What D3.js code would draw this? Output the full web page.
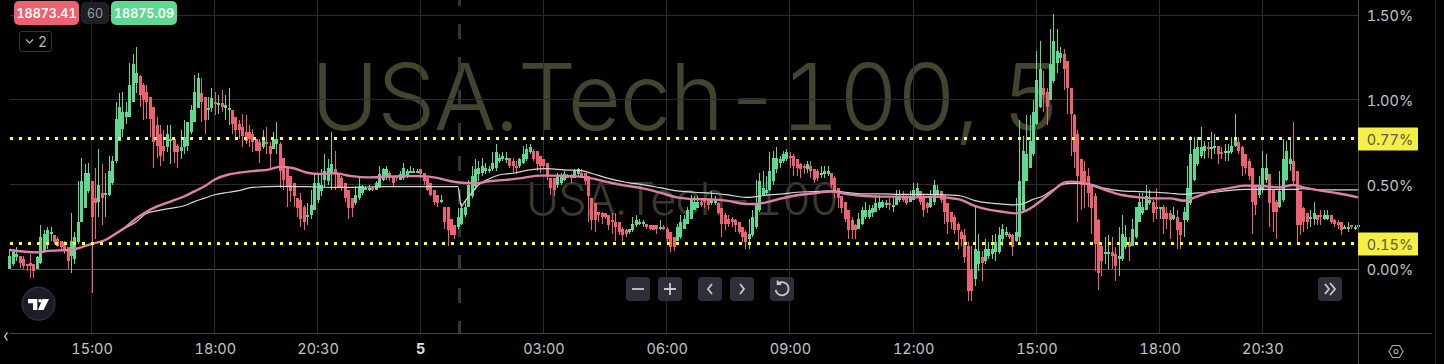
<!doctype html>
<html lang="en">
<head>
<meta charset="utf-8">
<title>USA.Tech-100, 5</title>
<script src="https://cdn.jsdelivr.net/npm/d3@7/dist/d3.min.js"></script>
<style>
html,body{margin:0;padding:0;background:#000;overflow:hidden}
svg{display:block}
text{font-family:Inter,sans-serif;font-variant-numeric:tabular-nums}
</style>
</head>
<body>
<svg id="chart" width="1444" height="364"></svg>
<script>
// percent change candles, one row of ten per line
var opens = [
0,.03,.07,.08,.06,.03,.04,.03,0,.04,
.11,.16,.21,.20,.18,.17,.16,.13,.08,.06,
.16,.28,.36,.46,.52,.42,.40,.45,.44,.44,
.51,.64,.76,.83,.90,.90,.99,1.10,1.14,1.09,
1.05,1.02,.96,.85,.80,.73,.72,.77,.77,.73,
.70,.72,.73,.81,.87,.95,1.04,1.02,.95,.95,
.99,.98,.98,.95,.94,.94,.90,.86,.84,.81,
.81,.80,.77,.75,.72,.75,.73,.71,.74,.74,
.66,.60,.55,.51,.42,.41,.37,.32,.32,.35,
.41,.46,.53,.52,.56,.59,.57,.54,.51,.47,
.42,.39,.42,.45,.48,.47,.48,.47,.49,.53,
.55,.57,.55,.55,.53,.54,.55,.58,.58,.58,
.59,.57,.54,.51,.47,.44,.41,.37,.37,.30,
.26,.25,.27,.32,.37,.43,.49,.56,.57,.58,
.59,.59,.60,.64,.65,.66,.66,.64,.61,.61,
.63,.65,.69,.70,.70,.67,.65,.63,.54,.54,
.50,.51,.53,.55,.55,.54,.56,.57,.57,.55,
.42,.39,.34,.33,.33,.32,.29,.28,.28,.24,
.23,.22,.23,.26,.28,.28,.27,.26,.26,.26,
.24,.25,.24,.22,.19,.17,.19,.24,.27,.30,
.35,.36,.40,.41,.41,.39,.39,.39,.36,.32,
.30,.30,.29,.28,.25,.22,.18,.20,.25,.35,
.44,.45,.47,.52,.59,.63,.64,.65,.67,.67,
.65,.62,.61,.59,.61,.59,.58,.56,.56,.56,
.57,.54,.48,.43,.40,.35,.29,.26,.24,.27,
.31,.31,.33,.34,.36,.37,.39,.39,.38,.38,
.41,.42,.42,.40,.41,.43,.46,.43,.39,.37,
.40,.44,.46,.44,.39,.34,.31,.27,.22,.20,
.14,0,-.06,.03,.07,.05,.08,.09,.10,.10,
.18,.20,.21,.20,.17,.19,.35,.52,.60,.68,
.86,.96,1.07,1.05,1.0,1.11,1.22,1.25,1.27,1.23,
1.07,.91,.80,.65,.58,.55,.50,.43,.29,.14,
.10,.10,.10,.09,.06,.06,.13,.16,.14,.19,
.28,.33,.35,.39,.40,.37,.37,.37,.33,.33,
.30,.31,.28,.29,.29,.39,.53,.62,.67,.70,
.72,.72,.72,.73,.69,.70,.70,.69,.73,.75,
.72,.68,.64,.60,.50,.44,.47,.53,.56,.47,
.40,.37,.41,.53,.62,.64,.58,.46,.36,.33,
.30,.30,.32,.32,.30,.30,.32,.29,.28,.28,
.25,.25,.26,.25,.25];
var highs = [
.12,.12,.13,.08,.08,.03,.09,.03,.08,.26,
.23,.25,.25,.20,.19,.17,.17,.13,.33,.22,
.52,.66,.62,.63,.52,.60,.71,.62,.57,.67,
.67,.99,1.04,1.05,.99,1.22,1.27,1.31,1.15,1.10,
1.09,1.02,.96,.90,.85,.82,.85,.85,.77,.74,
.82,.88,.87,.97,1.15,1.16,1.13,1.02,1.02,1.07,
1.05,1.03,1.06,1.03,1.07,.94,.90,.88,.92,.91,
.85,.83,.77,.77,.82,.84,.75,.81,.87,.75,
.66,.60,.55,.51,.42,.45,.38,.39,.47,.56,
.57,.59,.68,.65,.81,.70,.57,.55,.51,.47,
.42,.49,.54,.50,.49,.50,.49,.52,.61,.60,
.61,.58,.55,.55,.58,.63,.59,.61,.60,.59,
.59,.57,.54,.51,.47,.44,.44,.37,.37,.30,
.26,.36,.39,.41,.53,.61,.65,.64,.66,.63,
.61,.69,.74,.68,.69,.69,.66,.66,.64,.66,
.73,.74,.74,.71,.70,.67,.65,.63,.54,.54,
.57,.57,.58,.56,.56,.59,.60,.59,.57,.55,
.42,.39,.34,.34,.33,.32,.33,.33,.28,.25,
.24,.24,.31,.32,.30,.29,.27,.26,.26,.26,
.29,.26,.25,.22,.19,.27,.32,.32,.37,.44,
.43,.43,.41,.42,.42,.46,.43,.40,.36,.33,
.32,.31,.30,.28,.25,.23,.30,.35,.53,.57,
.58,.55,.69,.70,.72,.67,.70,.71,.69,.68,
.65,.63,.62,.64,.64,.59,.59,.61,.61,.61,
.57,.55,.48,.43,.40,.35,.31,.27,.33,.37,
.40,.38,.38,.44,.44,.41,.41,.42,.42,.47,
.47,.46,.44,.46,.51,.51,.46,.44,.40,.47,
.53,.50,.46,.44,.39,.34,.32,.28,.23,.24,
.16,.14,.38,.21,.11,.18,.16,.20,.21,.25,
.27,.25,.22,.21,.42,.88,.79,.91,.91,1.00,
1.29,1.35,1.17,1.07,1.42,1.51,1.42,1.31,1.30,1.23,
1.07,.92,.82,.65,.64,.60,.50,.45,.30,.15,
.19,.20,.19,.13,.25,.32,.26,.19,.30,.37,
.45,.45,.50,.47,.41,.48,.37,.38,.37,.35,
.37,.35,.28,.37,.61,.79,.78,.78,.84,.76,
.75,.81,.80,.73,.72,.74,.74,.78,.92,.78,
.73,.68,.65,.60,.50,.55,.70,.68,.56,.47,
.41,.58,.77,.76,.77,.87,.58,.46,.37,.33,
.35,.40,.32,.35,.35,.35,.32,.30,.29,.28,
.26,.28,.26,.26,.26];
var lows = [
0,.02,.05,.01,0,-.01,-.05,-.05,0,.03,
.10,.12,.17,.15,.13,.11,.09,0,-.02,.03,
.15,.28,.36,.45,-.14,.18,.31,.26,.31,.43,
.50,.63,.76,.78,.86,.90,.99,1.04,.96,.88,
.89,.78,.60,.66,.61,.64,.69,.62,.63,.60,
.65,.68,.70,.80,.87,.95,.87,.80,.88,.93,
.91,.92,.93,.88,.85,.80,.77,.77,.72,.74,
.72,.69,.70,.63,.71,.68,.60,.71,.68,.48,
.47,.37,.40,.37,.31,.25,.23,.26,.30,.35,
.39,.43,.48,.50,.47,.47,.48,.46,.40,.30,
.31,.38,.41,.44,.47,.46,.46,.47,.48,.52,
.53,.52,.49,.52,.53,.53,.54,.57,.57,.57,
.54,.50,.46,.43,.38,.37,.39,.24,.14,.20,
.18,.24,.26,.31,.37,.42,.47,.52,.55,.56,
.57,.58,.58,.63,.64,.63,.60,.57,.56,.60,
.62,.64,.68,.64,.58,.57,.60,.53,.44,.43,
.48,.50,.52,.54,.51,.54,.55,.54,.50,.28,
.23,.22,.28,.27,.30,.23,.21,.17,.20,.17,
.19,.21,.22,.25,.26,.25,.24,.23,.23,.21,
.23,.23,.16,.10,.11,.17,.18,.24,.27,.30,
.35,.36,.37,.36,.35,.38,.38,.32,.19,.23,
.25,.25,.22,.21,.16,.12,.12,.19,.24,.34,
.43,.44,.46,.50,.57,.60,.63,.64,.60,.55,
.55,.54,.56,.57,.54,.51,.52,.54,.54,.55,
.48,.42,.36,.33,.28,.18,.18,.18,.24,.26,
.30,.30,.31,.34,.35,.36,.36,.35,.34,.38,
.40,.40,.38,.40,.41,.42,.38,.31,.33,.36,
.38,.43,.39,.27,.21,.24,.21,.12,.14,.04,
-.19,-.19,-.10,-.01,-.07,.03,.06,.06,.05,.09,
.14,.19,.18,.08,.16,.15,.34,.52,.60,.67,
.85,.95,.93,.85,1.00,1.10,1.16,1.22,1.06,.92,
.67,.60,.28,.35,.36,.37,.21,-.01,-.12,-.04,
.03,0,0,-.07,-.04,.05,.12,.05,.14,.18,
.28,.32,.35,.38,.28,.30,.30,.21,.24,.18,
.29,.12,.12,.19,.28,.38,.52,.61,.66,.65,
.66,.65,.68,.62,.65,.64,.64,.68,.72,.68,
.55,.56,.53,.21,.32,.42,.45,.51,.25,.22,
.18,.36,.40,.52,.58,.50,.16,.20,.22,.24,
.25,.26,.26,.26,.29,.29,.27,.25,.24,.20,
.24,.22,.24,.23,.24];
var closes = [
.08,.10,.09,.04,.02,.02,.02,-.01,.07,.19,
.21,.23,.22,.16,.14,.13,.11,.05,.17,.19,
.28,.52,.57,.57,.31,.39,.50,.42,.45,.58,
.64,.89,.96,.93,.93,1.09,1.21,1.16,1.03,1.00,
.99,.89,.75,.73,.67,.70,.80,.77,.69,.69,
.72,.78,.87,.94,1.05,1.13,.99,.88,.95,1.01,
.98,.98,.96,.97,.95,.86,.82,.82,.79,.76,
.77,.75,.70,.70,.77,.74,.68,.77,.77,.58,
.53,.49,.46,.43,.36,.30,.28,.32,.38,.51,
.51,.50,.58,.60,.62,.56,.48,.48,.42,.36,
.36,.44,.49,.49,.48,.48,.47,.51,.56,.59,
.59,.54,.51,.54,.56,.60,.58,.58,.58,.58,
.56,.52,.47,.44,.40,.39,.41,.28,.23,.20,
.20,.31,.36,.37,.50,.55,.59,.60,.61,.60,
.59,.63,.69,.66,.67,.66,.61,.61,.60,.65,
.68,.71,.72,.65,.62,.61,.61,.55,.48,.47,
.55,.55,.56,.55,.54,.58,.59,.55,.52,.43,
.29,.29,.32,.31,.31,.26,.28,.25,.22,.20,
.21,.24,.27,.29,.28,.28,.25,.24,.23,.24,
.25,.24,.18,.13,.13,.25,.28,.30,.35,.41,
.40,.40,.38,.40,.38,.41,.41,.33,.27,.27,
.27,.28,.26,.22,.19,.16,.21,.31,.39,.52,
.48,.47,.58,.66,.66,.65,.68,.69,.66,.61,
.60,.59,.60,.62,.58,.53,.54,.57,.58,.58,
.50,.45,.42,.36,.30,.23,.23,.23,.30,.35,
.35,.35,.36,.39,.40,.40,.39,.38,.38,.43,
.43,.41,.39,.43,.47,.48,.40,.35,.36,.43,
.50,.47,.41,.34,.28,.28,.23,.23,.18,.07,
-.13,-.13,.12,.11,.04,.12,.12,.12,.16,.20,
.24,.22,.19,.13,.22,.52,.70,.68,.76,.93,
1.12,1.18,1.03,.96,1.21,1.35,1.29,1.28,1.18,1.07,
.92,.69,.55,.50,.50,.45,.36,.15,-.02,.05,
.10,.10,.08,.02,.08,.21,.19,.13,.24,.37,
.40,.37,.43,.41,.33,.36,.37,.30,.30,.29,
.32,.23,.20,.34,.48,.68,.71,.72,.72,.73,
.71,.72,.73,.68,.68,.70,.70,.73,.78,.70,
.61,.60,.55,.40,.38,.50,.60,.60,.39,.34,
.34,.46,.65,.70,.65,.52,.26,.26,.28,.28,
.31,.33,.29,.31,.32,.32,.28,.27,.26,.23,
.25,.25,.25,.25,.26];

var pinkBars = [0,8,12,18,21,24,28,31,34,37,40,43,47,51,54,57,60,64,67,71,76,79,83,87,91,95,100,105,110,115,120,125,129,133,137,140,145,150,155,160,165,170,175,180,185,190,195,200,205,210,215,218,222,226,230,235,240,245,250,255,260,265,270,274,278,282,286,290,294,297,299,302,304,306,308,310,313,316,320,325,330,335,339,343,347,351,356,361,366,371,375,378,383,388,394];
var pinkValues = [.114,.10,.11,.114,.13,.15,.173,.21,.25,.30,.34,.37,.40,.43,.46,.49,.53,.56,.57,.58,.59,.606,.597,.57,.563,.567,.55,.543,.547,.55,.55,.54,.52,.51,.51,.52,.528,.54,.553,.553,.55,.537,.514,.494,.478,.453,.425,.415,.413,.404,.386,.386,.40,.42,.437,.449,.459,.443,.433,.429,.429,.425,.429,.423,.41,.374,.352,.34,.33,.346,.37,.415,.449,.484,.512,.518,.512,.498,.469,.439,.425,.419,.419,.405,.43,.459,.478,.494,.492,.484,.498,.484,.465,.449,.425];
var whiteBars = [0,8,12,18,21,24,28,31,34,37,40,43,47,51,54,57,60,64,67,71,79,87,95,100,110,120,127,131,132,133,135,137,140,143,148,152,157,162,167,170,175,180,185,190,195,200,205,210,215,218,222,226,230,235,240,245,250,255,260,265,270,274,278,282,286,290,294,297,299,302,304,306,308,310,313,316,320,325,330,335,339,343,347,351,356,361,366,371,375,378,383,388,394];
var whiteValues = [.114,.10,.11,.114,.13,.15,.173,.21,.245,.28,.33,.345,.36,.375,.40,.42,.44,.455,.465,.484,.49,.488,.484,.484,.488,.488,.488,.488,.37,.40,.45,.498,.533,.557,.57,.587,.594,.587,.583,.567,.537,.514,.50,.482,.463,.455,.449,.439,.425,.429,.439,.445,.455,.459,.463,.453,.445,.445,.443,.443,.443,.439,.433,.406,.392,.385,.38,.394,.413,.433,.459,.484,.502,.508,.508,.502,.478,.463,.459,.455,.449,.443,.451,.453,.465,.472,.472,.472,.472,.476,.469,.469,.469];

var timeTicks = [24,60,90,120,156,192,228,264,300,336,366];
var timeLabels = ["15:00","18:00","20:30","5","03:00","06:00","09:00","12:00","15:00","18:00","20:30"];
var pctTicks = [0,.5,1,1.5];
var levels = [.77,.15];

var svg = d3.select("#chart");
var xScale = d3.scaleLinear().domain([24,366]).range([91.6,1262.3]);
var yScale = d3.scaleLinear().domain([0,1.5]).range([269.3,15.3]);
var plotRight = 1358, plotBottom = 333;

var plot = svg.append("g");

//watermarks
plot.append("text").attr("x",311).attr("y",130).text("USA.Tech-100, 5")
	.style("font-size","92px").style("font-weight",300).attr("textLength",750)
	.attr("fill","#44432f");
plot.append("text").attr("x",526).attr("y",215).text("USA.Tech-100")
	.style("font-size","45px").style("font-weight",300).attr("textLength",313)
	.attr("fill","#3b3b2b");

//grid
plot.selectAll("line.hgrid").data(pctTicks).enter().append("line").attr("class","hgrid")
	.attr("x1",10).attr("x2",plotRight)
	.attr("y1",function(d){return Math.floor(yScale(d))+.5})
	.attr("y2",function(d){return Math.floor(yScale(d))+.5})
	.attr("stroke",function(d){return d==0?"#55565c":"#2c2c30"});
plot.selectAll("line.vgrid").data(timeTicks).enter().append("line").attr("class","vgrid")
	.attr("x1",function(d){return Math.floor(xScale(d))+.5})
	.attr("x2",function(d){return Math.floor(xScale(d))+.5})
	.attr("y1",0).attr("y2",plotBottom)
	.attr("stroke","#2c2c30");

//day break
plot.append("line").attr("x1",459.5).attr("x2",459.5).attr("y1",0).attr("y2",plotBottom)
	.attr("stroke","#31343b").attr("stroke-width",3).attr("stroke-dasharray","15 18").attr("stroke-dashoffset",9);

//candles
var bars = d3.range(closes.length);
function barColor(i){return closes[i]>=opens[i]?"#5fd992":"#ee6170"}
plot.append("g").attr("shape-rendering","crispEdges").selectAll("rect.wick").data(bars).enter().append("rect").attr("class","wick")
	.attr("x",function(i){return Math.round(xScale(i))})
	.attr("width",1)
	.attr("y",function(i){return yScale(highs[i])})
	.attr("height",function(i){return yScale(lows[i])-yScale(highs[i])})
	.attr("fill",barColor);
plot.append("g").attr("shape-rendering","crispEdges").selectAll("rect.body").data(bars).enter().append("rect").attr("class","body")
	.attr("x",function(i){return Math.round(xScale(i))-1})
	.attr("width",3)
	.attr("y",function(i){return yScale(Math.max(opens[i],closes[i]))})
	.attr("height",function(i){return Math.max(2,Math.abs(yScale(opens[i])-yScale(closes[i])))})
	.attr("fill",barColor);

//averages
var maLine = d3.line().curve(d3.curveMonotoneX)
	.x(function(d){return xScale(d[0])})
	.y(function(d){return yScale(d[1])});
plot.append("path").attr("d",maLine(d3.zip(whiteBars,whiteValues)))
	.attr("fill","none").attr("stroke","#d8d8d8").attr("stroke-width",1.2);
plot.append("path").attr("d",maLine(d3.zip(pinkBars,pinkValues)))
	.attr("fill","none").attr("stroke","#de80a9").attr("stroke-width",2.4);

//level lines
plot.selectAll("line.level").data(levels).enter().append("line").attr("class","level")
	.attr("x1",10).attr("x2",plotRight)
	.attr("y1",function(d){return Math.round(yScale(d))-.5})
	.attr("y2",function(d){return Math.round(yScale(d))-.5})
	.attr("stroke","#ffff33").attr("stroke-width",3).attr("stroke-dasharray","3 6");

//axes frame
svg.append("line").attr("x1",10).attr("x2",1432).attr("y1",333.5).attr("y2",333.5).attr("stroke","#42444a");
svg.append("line").attr("x1",1358.5).attr("x2",1358.5).attr("y1",0).attr("y2",364).attr("stroke","#42444a");
svg.append("line").attr("x1",1435.5).attr("x2",1435.5).attr("y1",0).attr("y2",364).attr("stroke","#2c2c30");

//y axis
var yAxis = d3.axisRight(yScale).tickValues(pctTicks).tickSize(0)
	.tickFormat(function(d){return d3.format(".2f")(d)+"%"});
var yG = svg.append("g").attr("transform","translate(1390,1)").call(yAxis);
yG.select(".domain").remove();
yG.selectAll("text").attr("x",0).attr("text-anchor","middle").attr("fill","#c4c4c4").style("font-size","14.5px");

//level labels
var tags = svg.append("g").selectAll("g").data(levels).enter().append("g");
tags.append("rect").attr("x",1358).attr("width",60).attr("height",23).attr("rx",1)
	.attr("y",function(d){return yScale(d)-11.5}).attr("fill","#f5ee45");
tags.append("text").attr("x",1390).attr("y",function(d){return yScale(d)+6})
	.attr("text-anchor","middle").attr("fill","#5a5a50").style("font-size","14.5px")
	.text(function(d){return d3.format(".2f")(d)+"%"});

//x axis
var xAxis = d3.axisBottom(xScale).tickValues(timeTicks).tickSize(0)
	.tickFormat(function(d,i){return timeLabels[i]});
var xG = svg.append("g").attr("transform","translate(0,333)").call(xAxis);
xG.select(".domain").remove();
xG.selectAll("text").attr("y",11).attr("fill","#c4c4c4").style("font-size","14.5px")
	.filter(function(d,i){return timeLabels[i]=="5"}).style("font-weight","700").attr("fill","#e0e0e0");

//top badges
var badges = svg.append("g");
function badge(x,y,w,h,fill,txt,col,weight){
	badges.append("rect").attr("x",x).attr("y",y).attr("width",w).attr("height",h).attr("rx",5).attr("fill",fill);
	badges.append("text").attr("x",x+w/2).attr("y",y+h/2+4.5).attr("text-anchor","middle")
		.attr("fill",col).style("font-size","12.5px").style("font-weight",weight).text(txt);
}
badge(14,1,65,24,"#ee6170","18873.41","#fff",600);
badge(81,2,28,22,"#1e2025","60","#9a9ca3",400);
badge(111,1,66,24,"#5fd992","18875.09","#fff",600);

//collapse box
svg.append("rect").attr("x",19.5).attr("y",31.5).attr("width",32).attr("height",20).attr("rx",2.5)
	.attr("fill","#000").attr("stroke","#34353a");
svg.append("path").attr("d","M26 39.5l3.5 3.5 3.5-3.5").attr("fill","none").attr("stroke","#b8b8b8").attr("stroke-width",1.2);
svg.append("text").attr("x",38).attr("y",46.5).attr("fill","#b8b8b8").style("font-size","14px").text("2");

//nav buttons
var glyphs = {
	minus:"M-6 0h12",
	plus:"M-6 0h12M0-6v12",
	left:"M2-5l-4 5 4 5",
	right:"M-2-5l4 5-4 5",
	reset:"M-3.8-5.6A6.6 6.6 0 1 1-6.4 1M-4.4-8.6v3.6h3.6",
	fwd:"M-5-5l4 5-4 5M0-6l5 6-5 6"
};
var buttons = [["minus",626],["plus",658],["left",698],["right",730],["reset",770],["fwd",1318]];
var btn = svg.append("g").selectAll("g").data(buttons).enter().append("g")
	.attr("transform",function(d){return "translate("+(d[1]+12)+",289)"});
btn.append("rect").attr("x",-12).attr("y",-12).attr("width",24).attr("height",24).attr("rx",4).attr("fill","#2e3039");
btn.append("path").attr("d",function(d){return glyphs[d[0]]})
	.attr("fill","none").attr("stroke","#c8c8cc").attr("stroke-width",1.8);

//logo
var logo = svg.append("g").attr("transform","translate(38.5,303.7)");
logo.append("circle").attr("r",16.5).attr("fill","#1c1c28").attr("stroke","#3d3d47").attr("stroke-width",1);
logo.append("path").attr("d","M-10.5-4.7H-1.2V6.3H-5.5V-0.5H-10.5Z M4-4.7H10.5L5 6.3H-0.5Z").attr("fill","#fff");
logo.append("circle").attr("cx",1.6).attr("cy",-3).attr("r",1.8).attr("fill","#fff");

//scroll chevron and settings
svg.append("path").attr("d","M7.5 332.5l-2.8 4 2.8 4").attr("fill","none").attr("stroke","#d0d0d0").attr("stroke-width",1.3);
var gear = svg.append("g").attr("transform","translate(1396,351.5)").attr("fill","none").attr("stroke","#a8a8a8").attr("stroke-width",1.1);
gear.append("path").attr("d","M-7 0L-3.5-6H3.5L7 0L3.5 6H-3.5Z");
gear.append("circle").attr("r",2);
</script>
</body>
</html>
